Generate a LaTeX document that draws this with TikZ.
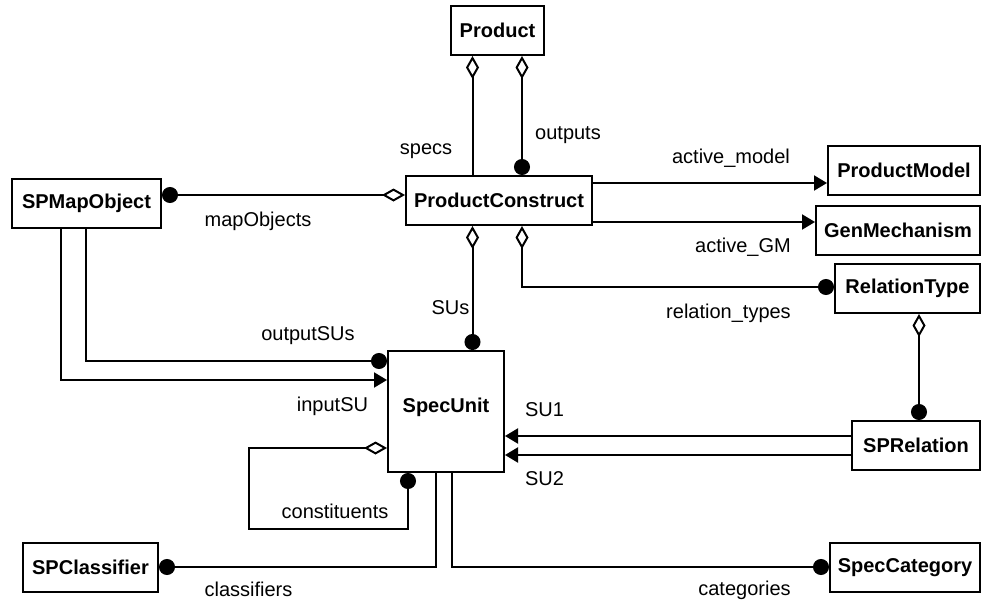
\documentclass[tikz,border=0pt]{standalone}
\usepackage{fontspec}
\setmainfont{Liberation Sans}
\usetikzlibrary{arrows.meta}

\tikzset{
  adia/.tip={Diamond[open,length=23pt,width=13pt]},
  adot/.tip={Circle[length=16pt]},
  atri/.tip={Triangle[length=13pt,width=15pt]},
  umlbox/.style={draw, line width=2pt, inner sep=0pt, minimum height=49pt,
    font=\fontsize{20}{24}\selectfont\bfseries},
  link/.style={line width=2pt},
  lbl/.style={inner sep=0pt, text height=14pt, text depth=0pt,
    font=\fontsize{20}{24}\selectfont},
}

\begin{document}
\begin{tikzpicture}[x=1pt,y=-1pt]
\useasboundingbox (0,0) rectangle (982,603);

% classes
\node[umlbox, minimum width=93pt]  (product)  at (497.5,30.5)  {Product};
\node[umlbox, minimum width=186pt] (pc)       at (499,200.5)   {ProductConstruct};
\node[umlbox, minimum width=149pt] (spmap)    at (86.5,203.5)  {SPMapObject};
\node[umlbox, minimum width=152pt] (pmodel)   at (904,170.5)   {ProductModel};
\node[umlbox, minimum width=164pt] (genm)     at (898,230.5)   {GenMechanism};
\node[umlbox, minimum width=145pt] (reltype)  at (907.5,288.5) {RelationType};
\node[umlbox, minimum width=116pt, minimum height=121pt] (specunit) at (446,411.5) {};
\node[font=\fontsize{20}{24}\selectfont\bfseries, inner sep=0pt, text height=14pt, text depth=0pt] (sulabel) at (446,405) {SpecUnit};
\node[umlbox, minimum width=128pt] (sprel)    at (916,445.5)   {SPRelation};
\node[umlbox, minimum width=135pt] (spclass)  at (90.5,567.5)  {SPClassifier};
\node[umlbox, minimum width=150pt] (speccat)  at (905,567.5)   {SpecCategory};

% associations
\draw[link, adia-]     (product.south -| 472.5,0) -- (pc.north -| 472.5,0);
\draw[link, adia-adot] (product.south -| 522,0) -- (pc.north -| 522,0);
\draw[link, adot-adia] (spmap.east |- 0,195) -- (pc.west |- 0,195);
\draw[link, -atri]     (pc.east |- 0,183) -- (pmodel.west |- 0,183);
\draw[link, -atri]     (pc.east |- 0,222) -- (genm.west |- 0,222);
\draw[link, adia-adot] (pc.south -| 522,0) |- (reltype.west |- 0,287);
\draw[link, adia-adot] (pc.south -| 472.5,0) -- (specunit.north -| 472.5,0);
\draw[link, adia-adot] (reltype.south -| 919,0) -- (sprel.north -| 919,0);
\draw[link, -atri]     (sprel.west |- 0,436) -- (specunit.east |- 0,436);
\draw[link, -atri]     (sprel.west |- 0,455) -- (specunit.east |- 0,455);
\draw[link, -adot]     (spmap.south -| 86,0) |- (specunit.west |- 0,361);
\draw[link, -atri]     (spmap.south -| 61,0) |- (specunit.west |- 0,380);
\draw[link, adia-adot] (specunit.west |- 0,448) -- (249,448) -- (249,529)
                       -- (408,529) -- (specunit.south -| 408,0);
\draw[link, -adot]     (specunit.south -| 436,0) |- (spclass.east |- 0,567);
\draw[link, -adot]     (specunit.south -| 452,0) |- (speccat.west |- 0,567);

% role names
\node[lbl] (l-specs)   at (426,147)   {specs};
\node[lbl] (l-outputs) at (568,132)   {outputs};
\node[lbl] (l-map)     at (258,219)   {mapObjects};
\node[lbl] (l-amodel)  at (731,156)   {active\_model};
\node[lbl] (l-agm)     at (743,245)   {active\_GM};
\node[lbl] (l-rtypes)  at (728.5,311) {relation\_types};
\node[lbl] (l-sus)     at (450.5,307) {SUs};
\node[lbl] (l-outsus)  at (308,333)   {outputSUs};
\node[lbl] (l-insu)    at (332.5,404) {inputSU};
\node[lbl] (l-su1)     at (544.5,409) {SU1};
\node[lbl] (l-su2)     at (544.5,478) {SU2};
\node[lbl] (l-const)   at (335,511)   {constituents};
\node[lbl] (l-class)   at (248.5,589) {classifiers};
\node[lbl] (l-cat)     at (744.5,588) {categories};
\end{tikzpicture}
\end{document}
